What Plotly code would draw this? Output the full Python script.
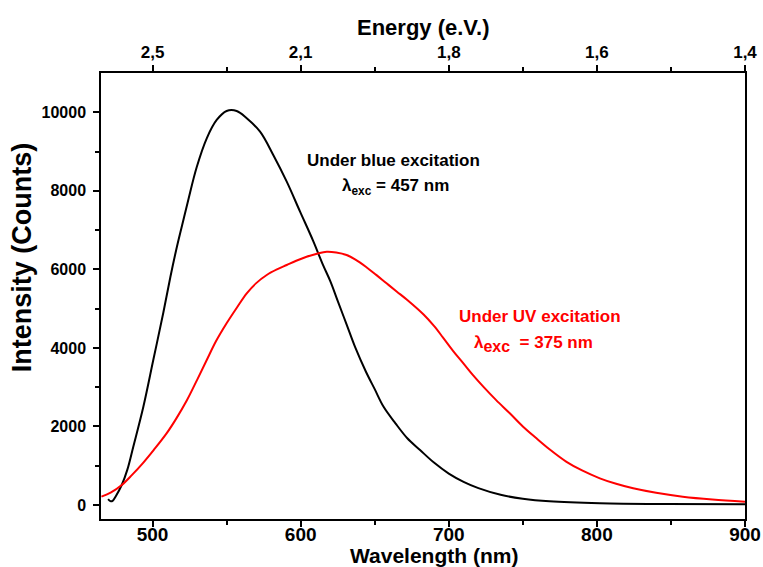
import plotly.graph_objects as go

# Black curve: under blue excitation (457 nm)
wl_blue = [470, 471.5, 473, 475, 479.2, 483, 487, 493.8, 500.5, 507.3, 512, 516, 520, 524, 529.8,
           536.6, 543.3, 550, 556.8, 563.6, 572.6, 581.5, 590.6, 599.6, 608.5, 615, 620, 625,
           631, 637, 644, 650, 656, 664, 672, 680.6, 690, 700, 710, 720, 735, 750, 768, 802, 847, 900]
int_blue = [150, 100, 105, 212, 509, 900, 1485, 2503, 3692, 4900, 5800, 6500, 7130, 7750, 8600,
            9337, 9804, 10033, 10033, 9847, 9507, 8913, 8233, 7470, 6720, 6120, 5700, 5200,
            4600, 4000, 3400, 2950, 2500, 2080, 1700, 1400, 1080, 800, 590, 430, 260, 160, 95, 45, 25, 20]

# Red curve: under UV excitation (375 nm)
wl_uv = [465.5, 472, 479.2, 486, 493.8, 501, 509.6, 516, 523.1, 530, 536.6, 543, 550, 557,
         563.6, 570, 577.1, 584, 590.6, 597, 604, 611, 617.6, 624, 631, 637, 644, 651, 658,
         665, 672, 683, 690, 696, 703, 710, 716.5, 723.3, 732, 741.2, 750, 759.2, 768,
         779.5, 790, 802, 813, 824.5, 840, 858, 878, 900]
int_uv = [212, 320, 509, 760, 1080, 1410, 1830, 2200, 2660, 3180, 3692, 4180, 4627, 5030,
          5390, 5650, 5857, 6000, 6112, 6220, 6323, 6400, 6450, 6430, 6366, 6250, 6068, 5860,
          5645, 5432, 5220, 4850, 4560, 4270, 3920, 3600, 3300, 3013, 2670, 2335, 2000, 1698,
          1420, 1100, 880, 680, 540, 425, 310, 212, 140, 85]

wl_ticks = [500, 600, 700, 800, 900]
energy_labels = ["2,5", "2,1", "1,8", "1,6", "1,4"]
y_ticks = [0, 2000, 4000, 6000, 8000, 10000]
y_labels = ["0", "2000", "4000", "6000", "8000", "10000"]

FONT = "Liberation Sans, Arial, sans-serif"

fig = go.Figure()
fig.add_trace(go.Scatter(x=wl_blue, y=int_blue, mode="lines",
                         line=dict(color="black", width=2, shape="spline", smoothing=1.0),
                         showlegend=False))
fig.add_trace(go.Scatter(x=wl_uv, y=int_uv, mode="lines",
                         line=dict(color="#ff0000", width=2, shape="spline", smoothing=1.0),
                         showlegend=False))
# invisible trace for top axis
fig.add_trace(go.Scatter(x=[wl_ticks[0]], y=[0], xaxis="x2", mode="markers", marker=dict(opacity=0),
                         showlegend=False, hoverinfo="skip"))

axis_common = dict(showgrid=False, zeroline=False, showline=True, linecolor="black", linewidth=1.5,
                   ticks="outside", ticklen=6, tickwidth=1.5, tickcolor="black", automargin=False)
minor_common = dict(ticks="outside", ticklen=4, tickwidth=1.5, tickcolor="black")

fig.update_layout(
    width=763, height=567,
    margin=dict(l=101, r=18, t=73, b=48),
    plot_bgcolor="white", paper_bgcolor="white",
    font=dict(family=FONT, color="black"),
    xaxis=dict(range=[465.2, 900], tickvals=wl_ticks, mirror=False,
               tickfont=dict(size=19, family=FONT, weight="bold"), ticklabelstandoff=-9,
               minor=dict(tickvals=[550, 650, 750, 850], **minor_common),
               **axis_common),
    xaxis2=dict(range=[465.2, 900], overlaying="x", side="top", tickvals=wl_ticks, ticktext=energy_labels,
                tickfont=dict(size=17, family=FONT, weight="bold"),
                minor=dict(tickvals=[550, 650, 750, 850], **minor_common),
                **axis_common),
    yaxis=dict(range=[-356, 11000], tickvals=y_ticks, ticktext=y_labels, mirror=True,
               tickfont=dict(size=16, family=FONT, weight="bold"), ticklabelstandoff=4,
               minor=dict(tickvals=[1000, 3000, 5000, 7000, 9000], **minor_common),
               **axis_common),
)

# axis titles
fig.add_annotation(x=0.517, y=-0.081, xref="paper", yref="paper", showarrow=False,
                   xanchor="center", yanchor="middle",
                   text="<b>Wavelength (nm)</b>", font=dict(size=21, family=FONT, color="black"))
fig.add_annotation(x=0.50, y=1.103, xref="paper", yref="paper", showarrow=False,
                   xanchor="center", yanchor="middle",
                   text="<b>Energy (e.V.)</b>", font=dict(size=22, family=FONT, color="black"))
fig.add_annotation(x=-0.1227, y=0.587, xref="paper", yref="paper", showarrow=False, textangle=-90,
                   xanchor="center", yanchor="middle",
                   text="<b>Intensity (Counts)</b>", font=dict(size=27, family=FONT, color="black"))

# curve labels
fig.add_annotation(x=662.5, y=8760, xref="x", yref="y", showarrow=False,
                   text="<b>Under blue excitation</b>", font=dict(size=17, color="black", family=FONT))
fig.add_annotation(x=664, y=8100, xref="x", yref="y", showarrow=False,
                   text="<b>λ<sub>exc</sub> = 457 nm</b>", font=dict(size=17, color="black", family=FONT))
fig.add_annotation(x=761.6, y=4800, xref="x", yref="y", showarrow=False,
                   text="<b>Under UV excitation</b>", font=dict(size=17, color="#ff0000", family=FONT))
fig.add_annotation(x=757, y=4100, xref="x", yref="y", showarrow=False,
                   text="<b>λ<sub><span style=\"font-size:16px\">exc</span></sub>  = 375 nm</b>",
                   font=dict(size=17, color="#ff0000", family=FONT))

fig.write_html("out.html")
